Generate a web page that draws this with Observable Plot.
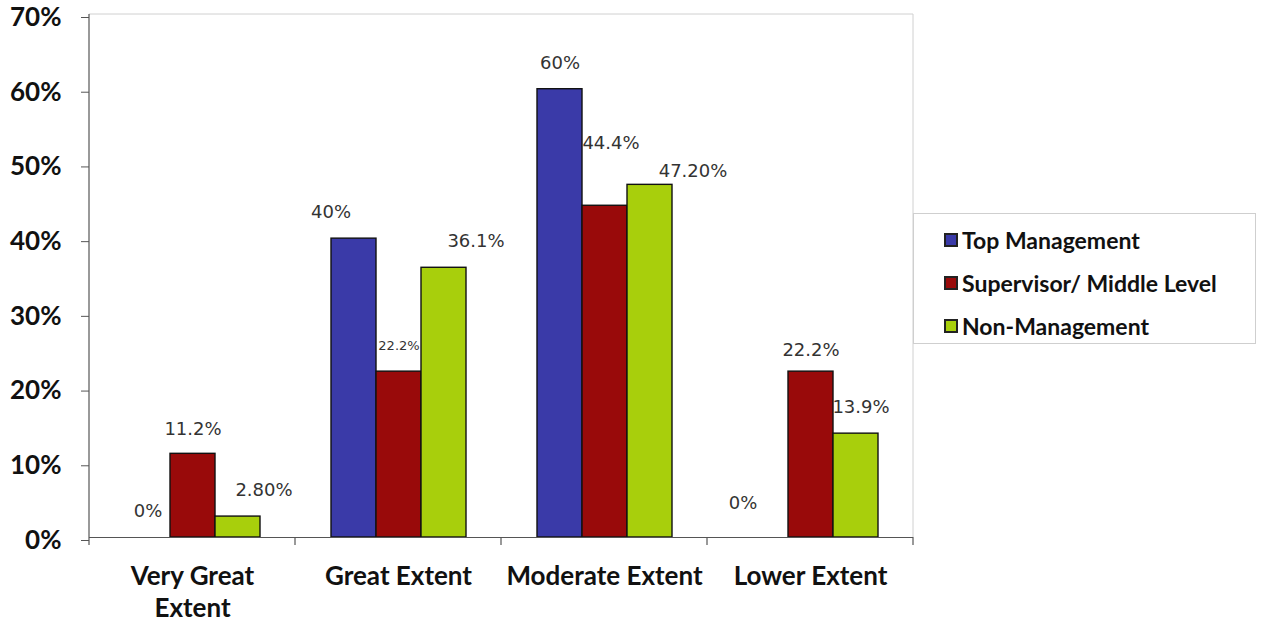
<!DOCTYPE html>
<html>
<head>
<meta charset="utf-8">
<script src="https://cdn.jsdelivr.net/npm/d3@7"></script>
<script src="https://cdn.jsdelivr.net/npm/@observablehq/plot@0.6"></script>
<style>
  body { margin: 0; background: #fff; }
  #wrap { position: relative; width: 1264px; height: 622px; }
  #legend { position: absolute; left: 913px; top: 213px; width: 343px; height: 131px;
            border: 1px solid #cfcfcf; background: #fff; box-sizing: border-box;
            font-family: Lato, sans-serif; font-weight: bold; font-size: 23px; color: #111; }
  .item { position: absolute; left: 30px; display: flex; align-items: center; height: 26px; }
  .sw { width: 10px; height: 10px; border: 2px solid #222; margin-right: 4px; }
</style>
</head>
<body>
<div id="wrap"><div id="chart"></div><div id="legend"></div></div>
<script>
const categories = ["Very Great Extent", "Great Extent", "Moderate Extent", "Lower Extent"];
const categoryTickLabels = ["Very Great\nExtent", "Great Extent", "Moderate Extent", "Lower Extent"];
const series = ["Top Management", "Supervisor/ Middle Level", "Non-Management"];
const topManagement = [0, 40, 60, 0];
const supervisorMiddle = [11.2, 22.2, 44.4, 22.2];
const nonManagement = [2.8, 36.1, 47.2, 13.9];
const topManagementLabels = ["0%", "40%", "60%", "0%"];
const supervisorMiddleLabels = ["11.2%", "22.2%", "44.4%", "22.2%"];
const nonManagementLabels = ["2.80%", "36.1%", "47.20%", "13.9%"];
const yTicks = [0, 10, 20, 30, 40, 50, 60, 70];
const colors = ["#3a3aa8", "#990a0a", "#a8cf0c"];

const seriesValues = [topManagement, supervisorMiddle, nonManagement];
const seriesLabels = [topManagementLabels, supervisorMiddleLabels, nonManagementLabels];
const rows = [];
series.forEach((s, si) => categories.forEach((c, ci) => {
  rows.push({ category: c, series: s, value: seriesValues[si][ci], label: seriesLabels[si][ci], si, ci });
}));

// label nudges (styling, mimicking the manually placed labels)
const nudge = [
  [[0, -26], [-23, -26], [0, -26], [-23, -34]],
  [[0, -25], [0, -26], [6, -63], [0, -21]],
  [[26, -26], [32, -27], [43, -14], [5, -26]]
];
const labelSize = [[18, 18, 18, 18], [18, 13, 18, 18], [18, 18, 18, 18]];

const labelMarks = rows.map(r => Plot.text([r], {
  fx: "category", x: "series", y: "value", text: "label",
  dx: nudge[r.si][r.ci][0], dy: nudge[r.si][r.ci][1],
  fontSize: labelSize[r.si][r.ci], fontFamily: "DejaVu Sans", fill: "#333"
}));

const chart = Plot.plot({
  width: 1264, height: 622,
  marginLeft: 88, marginRight: 351, marginTop: 14, marginBottom: 85,
  style: { fontFamily: "Lato, sans-serif", background: "transparent", overflow: "visible" },
  fx: { domain: categories, padding: 0, label: null },
  x: { domain: series, axis: null, paddingInner: 0, paddingOuter: 0.765 },
  y: { domain: [0, 70], label: null },
  color: { domain: series, range: colors },
  marks: [
    Plot.barY(rows, { fx: "category", x: "series", y: "value", fill: "series", stroke: "#111", strokeWidth: 1.4 }),
    Plot.ruleY([0], { stroke: "#555", strokeWidth: 1.2 }),
    ...labelMarks,
    Plot.axisY({ ticks: yTicks, tickFormat: d => d + "%", tickSize: 8, tickPadding: 20,
      fontSize: 26, fontWeight: "bold", fill: "#111", stroke: "#555", dy: 3, label: null }),
    Plot.axisFx({ anchor: "bottom", tickSize: 0, tickPadding: 25, fontSize: 26, fontWeight: "bold",
      lineHeight: 1.22, fill: "#111", label: null,
      tickFormat: d => categoryTickLabels[categories.indexOf(d)] })
  ]
});
document.getElementById("chart").appendChild(chart);

// decorations: plot-area border, y axis line and category boundary ticks
const fxs = chart.scale("fx"), ys = chart.scale("y");
const y0 = ys.apply(0), yTop = ys.apply(70);
const edges = categories.map(c => fxs.apply(c));
edges.push(fxs.apply(categories[categories.length - 1]) + fxs.bandwidth);
const g = d3.select(chart).append("g");
const xL = edges[0], xR = edges[edges.length - 1];
g.append("line").attr("x1", xL).attr("x2", xR).attr("y1", yTop).attr("y2", yTop).attr("stroke", "#d0d0d0");
g.append("line").attr("x1", xR).attr("x2", xR).attr("y1", yTop).attr("y2", y0).attr("stroke", "#d0d0d0");
g.append("line").attr("x1", xL).attr("x2", xL).attr("y1", yTop).attr("y2", y0 + 8).attr("stroke", "#555").attr("stroke-width", 1.2);
edges.slice(1).forEach(x => g.append("line").attr("x1", x).attr("x2", x).attr("y1", y0).attr("y2", y0 + 8).attr("stroke", "#555").attr("stroke-width", 1.2));

// legend
const legend = document.getElementById("legend");
series.forEach((s, i) => {
  const it = document.createElement("div");
  it.className = "item";
  it.style.top = (13 + i * 43) + "px";
  it.innerHTML = `<span class="sw" style="background:${colors[i]}"></span><span>${s}</span>`;
  legend.appendChild(it);
});
</script>
</body>
</html>
